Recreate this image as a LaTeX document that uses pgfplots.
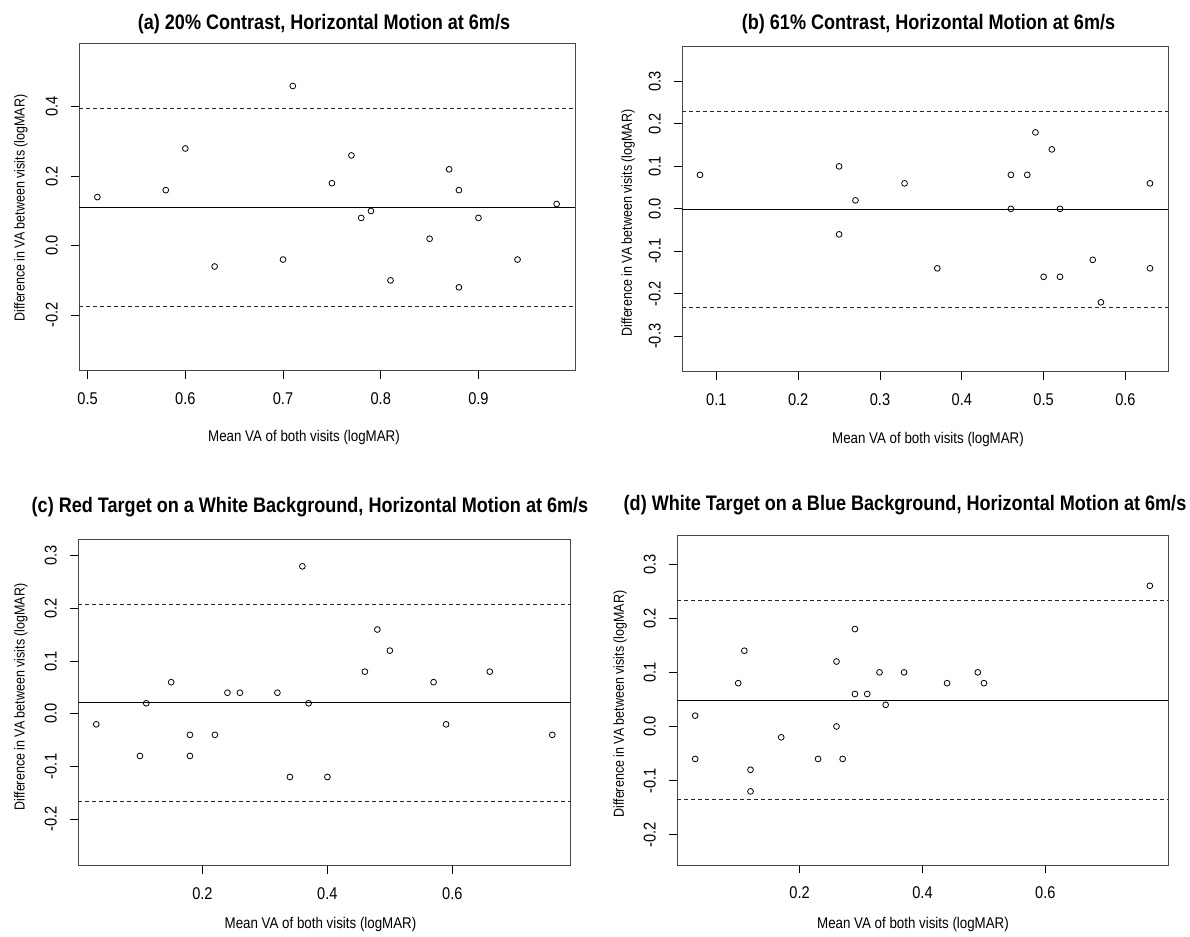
\documentclass[border=0pt]{standalone}
\usepackage{fontspec}
\usepackage{pgfplots}
\pgfplotsset{compat=1.18}

\newfontfamily\nf{Liberation Sans}[FakeStretch=0.86]
\newcommand\tickfont{\nf\fontsize{17bp}{20bp}\selectfont}
\newcommand\titlefont{\nf\bfseries\fontsize{21bp}{25bp}\selectfont}
\newcommand\xlabfont{\nf\fontsize{15.5bp}{18bp}\selectfont}
\newcommand\ylabfont{\nf\fontsize{14.5bp}{17bp}\selectfont}

\pgfplotsset{
  ba/.style={
    scale only axis, anchor=south west,
    axis line style={black!72, line width=1bp},
    tick align=outside, major tick length=8bp,
    xtick pos=bottom, ytick pos=left,
    tick style={black, line width=0.8bp},
    /pgf/number format/assume math mode=true,
    every tick label/.append style={font=\tickfont},
    xticklabel style={anchor=north, inner sep=0pt, yshift=-13bp},
    yticklabel style={xshift=-13bp, rotate=90, anchor=south, inner sep=0pt},
  },
  pts/.style={only marks, mark=o, mark size=2.9bp,
    mark options={black, line width=0.8bp}},
  meanline/.style={black, line width=1bp, no marks},
  loaline/.style={black!85, line width=1bp, dash pattern=on 4bp off 3bp, no marks},
}

\begin{document}
\begin{tikzpicture}
\useasboundingbox (0,0) rectangle (1190bp,937bp);

% (a) 20% contrast
\begin{axis}[ba, at={(79bp,566bp)}, width=496bp, height=327bp,
  xmin=0.4912, xmax=0.9988, ymin=-0.361, ymax=0.581,
  xtick={0.5,0.6,0.7,0.8,0.9}, xticklabels={0.5,0.6,0.7,0.8,0.9},
  ytick={-0.2,0,0.2,0.4}, yticklabels={-0.2,0.0,0.2,0.4}]
\addplot[pts] coordinates {
  (0.51,0.14) (0.58,0.16) (0.60,0.28) (0.63,-0.06) (0.70,-0.04) (0.71,0.46)
  (0.75,0.18) (0.77,0.26) (0.78,0.08) (0.79,0.10) (0.81,-0.10) (0.85,0.02)
  (0.87,0.22) (0.88,0.16) (0.88,-0.12) (0.90,0.08) (0.94,-0.04) (0.98,0.12)};
\addplot[meanline] coordinates {(0.4912,0.110) (0.9988,0.110)};
\addplot[loaline] coordinates {(0.4912,0.3955) (0.9988,0.3955)};
\addplot[loaline] coordinates {(0.4912,-0.1747) (0.9988,-0.1747)};
\end{axis}

% (b) 61% contrast
\begin{axis}[ba, at={(682bp,565bp)}, width=486bp, height=325bp,
  xmin=0.058, xmax=0.652, ymin=-0.384, ymax=0.381,
  xtick={0.1,0.2,0.3,0.4,0.5,0.6}, xticklabels={0.1,0.2,0.3,0.4,0.5,0.6},
  ytick={-0.3,-0.2,-0.1,0,0.1,0.2,0.3},
  yticklabels={-0.3,-0.2,-0.1,0.0,0.1,0.2,0.3}]
\addplot[pts] coordinates {
  (0.08,0.08) (0.25,0.10) (0.25,-0.06) (0.27,0.02) (0.33,0.06) (0.37,-0.14)
  (0.46,0.08) (0.46,0.00) (0.48,0.08) (0.49,0.18) (0.50,-0.16) (0.51,0.14)
  (0.52,0.00) (0.52,-0.16) (0.56,-0.12) (0.57,-0.22) (0.63,0.06) (0.63,-0.14)};
\addplot[meanline] coordinates {(0.058,-0.002) (0.652,-0.002)};
\addplot[loaline] coordinates {(0.058,0.229) (0.652,0.229)};
\addplot[loaline] coordinates {(0.058,-0.233) (0.652,-0.233)};
\end{axis}

% (c) red target on white
\begin{axis}[ba, at={(78bp,71bp)}, width=492.5bp, height=326bp,
  xmin=0.0008, xmax=0.7892, ymin=-0.289, ymax=0.330,
  xtick={0.2,0.4,0.6}, xticklabels={0.2,0.4,0.6},
  ytick={-0.2,-0.1,0,0.1,0.2,0.3},
  yticklabels={-0.2,-0.1,0.0,0.1,0.2,0.3}]
\addplot[pts] coordinates {
  (0.03,-0.02) (0.10,-0.08) (0.11,0.02) (0.15,0.06) (0.18,-0.04) (0.18,-0.08)
  (0.22,-0.04) (0.24,0.04) (0.26,0.04) (0.32,0.04) (0.34,-0.12) (0.36,0.28)
  (0.37,0.02) (0.40,-0.12) (0.46,0.08) (0.48,0.16) (0.50,0.12) (0.57,0.06)
  (0.59,-0.02) (0.66,0.08) (0.76,-0.04)};
\addplot[meanline] coordinates {(0.0008,0.022) (0.7892,0.022)};
\addplot[loaline] coordinates {(0.0008,0.208) (0.7892,0.208)};
\addplot[loaline] coordinates {(0.0008,-0.167) (0.7892,-0.167)};
\end{axis}

% (d) white target on blue
\begin{axis}[ba, at={(677bp,72bp)}, width=491bp, height=329bp,
  xmin=0.0004, xmax=0.7996, ymin=-0.256, ymax=0.352,
  xtick={0.2,0.4,0.6}, xticklabels={0.2,0.4,0.6},
  ytick={-0.2,-0.1,0,0.1,0.2,0.3},
  yticklabels={-0.2,-0.1,0.0,0.1,0.2,0.3}]
\addplot[pts] coordinates {
  (0.03,0.02) (0.03,-0.06) (0.10,0.08) (0.11,0.14) (0.12,-0.08) (0.12,-0.12)
  (0.17,-0.02) (0.23,-0.06) (0.26,0.12) (0.26,0.00) (0.27,-0.06) (0.29,0.18)
  (0.29,0.06) (0.31,0.06) (0.33,0.10) (0.34,0.04) (0.37,0.10) (0.44,0.08)
  (0.49,0.10) (0.50,0.08) (0.77,0.26)};
\addplot[meanline] coordinates {(0.0004,0.0486) (0.7996,0.0486)};
\addplot[loaline] coordinates {(0.0004,0.232) (0.7996,0.232)};
\addplot[loaline] coordinates {(0.0004,-0.135) (0.7996,-0.135)};
\end{axis}

% panel titles
\node[anchor=base, inner sep=0pt] at (324bp,907bp) {\titlefont (a) 20\% Contrast, Horizontal Motion at 6m/s};
\node[anchor=base, inner sep=0pt] at (928.5bp,907bp) {\titlefont (b) 61\% Contrast, Horizontal Motion at 6m/s};
\node[anchor=base, inner sep=0pt] at (310bp,424bp) {\titlefont (c) Red Target on a White Background, Horizontal Motion at 6m/s};
\node[anchor=base, inner sep=0pt] at (905bp,426bp) {\titlefont (d) White Target on a Blue Background, Horizontal Motion at 6m/s};

% axis labels
\node[inner sep=0pt] at (304bp,500bp) {\xlabfont Mean VA of both visits (logMAR)};
\node[inner sep=0pt] at (928bp,498bp) {\xlabfont Mean VA of both visits (logMAR)};
\node[inner sep=0pt] at (320.5bp,13bp) {\xlabfont Mean VA of both visits (logMAR)};
\node[inner sep=0pt] at (913bp,13bp) {\xlabfont Mean VA of both visits (logMAR)};

\node[inner sep=0pt, rotate=90] at (21bp,729bp) {\ylabfont Difference in VA between visits (logMAR)};
\node[inner sep=0pt, rotate=90] at (628bp,714bp) {\ylabfont Difference in VA between visits (logMAR)};
\node[inner sep=0pt, rotate=90] at (21bp,240bp) {\ylabfont Difference in VA between visits (logMAR)};
\node[inner sep=0pt, rotate=90] at (620bp,233bp) {\ylabfont Difference in VA between visits (logMAR)};
\end{tikzpicture}
\end{document}
